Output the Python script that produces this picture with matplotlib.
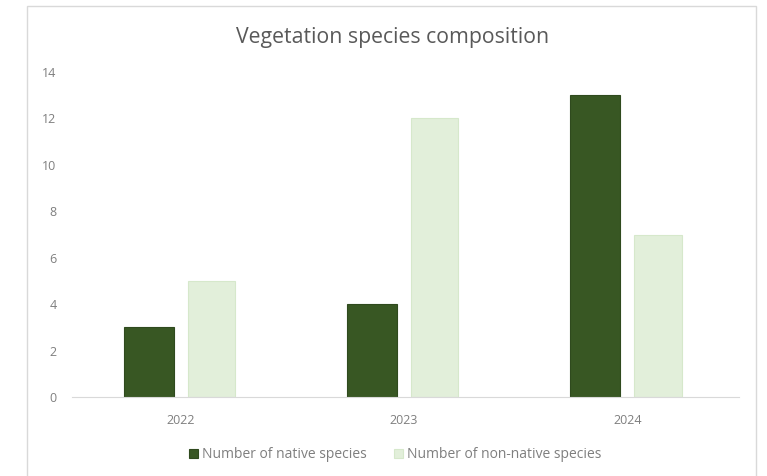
import numpy as np
import matplotlib
matplotlib.use("Agg")
import matplotlib.pyplot as plt
from matplotlib.patches import Rectangle

# data
years = ["2022", "2023", "2024"]
native = [3, 4, 13]
non_native = [5, 12, 7]
yticks = [0, 2, 4, 6, 8, 10, 12, 14]

plt.rcParams['font.family'] = ['Open Sans', 'DejaVu Sans']

fig = plt.figure(figsize=(7.67, 4.76), dpi=100)
fig.patch.set_facecolor("white")

# chart area border
fig.patches.append(Rectangle((27 / 767, -0.01), 729 / 767, 1 - 6 / 476 + 0.01,
                             transform=fig.transFigure, fill=False,
                             edgecolor="#d9d9d9", linewidth=1.0))

ax = fig.add_axes([69 / 767, 1 - 397 / 476, 670 / 767, 325 / 476])

x = np.arange(len(years))
w1 = 0.224
w2 = 0.212
gap = 0.062
ax.bar(x - gap / 2 - w1 / 2, native, w1, color="#385723", edgecolor="#2f4a1e",
       linewidth=0.8, label="Number of native species")
ax.bar(x + gap / 2 + w2 / 2, non_native, w2, color="#e2efda", edgecolor="#d6e8cb",
       linewidth=0.8, label="Number of non-native species")

ax.set_xlim(-0.5, 2.5)
ax.set_ylim(0, 14)
ax.set_yticks(yticks)
ax.set_xticks(x)
ax.set_xticklabels(years)

for s in ["top", "right", "left"]:
    ax.spines[s].set_visible(False)
ax.spines["bottom"].set_color("#d9d9d9")
ax.spines["bottom"].set_bounds(-0.486, 2.5)
ax.tick_params(axis="both", length=0, colors="#7f7f7f", labelsize=9)
ax.tick_params(axis="y", pad=9)
ax.tick_params(axis="x", pad=12)

fig.text(393 / 767, 1 - 37 / 476, "Vegetation species composition",
         ha="center", va="center", fontsize=15.3, color="#595959")

leg = ax.legend(loc="center", bbox_to_anchor=(0.487, -0.178), ncol=2,
                frameon=False, fontsize=10, handlelength=0.6, handleheight=0.6,
                handletextpad=0.3, columnspacing=2.0)
for t in leg.get_texts():
    t.set_color("#7f7f7f")

fig.savefig("out.png", dpi=100)
